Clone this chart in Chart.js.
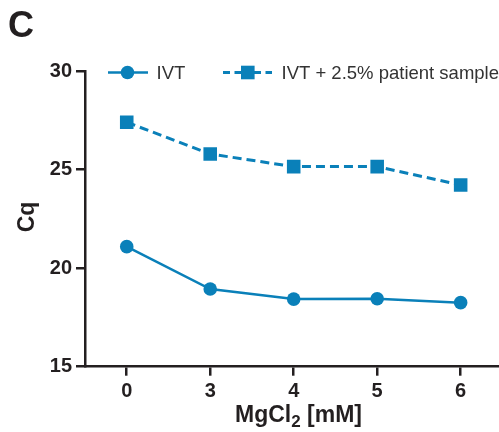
<!DOCTYPE html>
<html>
<head>
<meta charset="utf-8">
<script src="https://cdn.jsdelivr.net/npm/chart.js@4"></script>
<style>
  html, body { margin: 0; padding: 0; background: #fff; overflow: hidden; width: 499px; height: 432px; }
  #wrap { position: relative; width: 512px; height: 432px; }
  #c { width: 512px; height: 432px; }
</style>
</head>
<body>
<div id="wrap"><canvas id="c" width="512" height="432"></canvas></div>
<script>
const categories = ['0', '3', '4', '5', '6'];
const ivt = [21.09, 18.94, 18.43, 18.45, 18.25];
const ivtPatient = [27.40, 25.79, 25.15, 25.15, 24.22];
const yTicks = [15, 20, 25, 30];
const seriesLabels = ['IVT', 'IVT + 2.5% patient sample'];
const panelLabel = 'C';
const yTitle = 'Cq';

const BLUE = '#0a80b9';
const INK = '#231f20';
const FONT = '"Liberation Sans", Arial, sans-serif';

const extras = {
  id: 'extras',
  afterDraw(chart) {
    const ctx = chart.ctx;
    ctx.save();
    // panel label
    ctx.fillStyle = INK;
    ctx.font = 'bold 36px ' + FONT;
    ctx.textBaseline = 'alphabetic';
    ctx.textAlign = 'left';
    ctx.fillText(panelLabel, 8, 37);
    // y title
    ctx.save();
    ctx.translate(34, 217);
    ctx.rotate(-Math.PI / 2);
    ctx.font = 'bold 23px ' + FONT;
    ctx.textAlign = 'center';
    ctx.textBaseline = 'alphabetic';
    ctx.fillText(yTitle, 0, 0);
    ctx.restore();
    // x title: MgCl2 [mM] with subscript
    const p1 = 'MgCl', p2 = '2', p3 = ' [mM]';
    ctx.font = 'bold 23px ' + FONT;
    const w1 = ctx.measureText(p1).width;
    const w3 = ctx.measureText(p3).width;
    ctx.font = 'bold 17px ' + FONT;
    const w2 = ctx.measureText(p2).width;
    const total = w1 + w2 + w3;
    let x = 298.5 - total / 2;
    const base = 422;
    ctx.textAlign = 'left';
    ctx.font = 'bold 23px ' + FONT;
    ctx.fillText(p1, x, base);
    x += w1;
    ctx.font = 'bold 17px ' + FONT;
    ctx.fillText(p2, x, base + 4.5);
    x += w2;
    ctx.font = 'bold 23px ' + FONT;
    ctx.fillText(p3, x, base);

    // legend
    const ly = 72.5;
    const ds = chart.data.datasets;
    ctx.strokeStyle = ds[0].borderColor;
    ctx.lineWidth = 2.5;
    ctx.setLineDash([]);
    ctx.beginPath(); ctx.moveTo(108, ly); ctx.lineTo(148, ly); ctx.stroke();
    ctx.fillStyle = ds[0].pointBackgroundColor;
    ctx.beginPath(); ctx.arc(127.5, ly, 6.8, 0, Math.PI * 2); ctx.fill();
    ctx.fillStyle = '#333';
    ctx.font = '18.5px ' + FONT;
    ctx.textBaseline = 'middle';
    ctx.fillText(ds[0].label, 156.5, ly + 1);
    ctx.strokeStyle = ds[1].borderColor;
    ctx.lineWidth = 2.8;
    ctx.setLineDash([7, 4.5]);
    ctx.beginPath(); ctx.moveTo(223, ly); ctx.lineTo(241, ly); ctx.stroke();
    ctx.beginPath(); ctx.moveTo(254, ly); ctx.lineTo(272, ly); ctx.stroke();
    ctx.setLineDash([]);
    ctx.fillStyle = ds[1].pointBackgroundColor;
    ctx.fillRect(241, ly - 6.8, 13.6, 13.6);
    ctx.fillStyle = '#333';
    ctx.fillText(ds[1].label, 281.5, ly + 1);
    ctx.restore();
  }
};

new Chart(document.getElementById('c'), {
  type: 'line',
  data: {
    labels: categories,
    datasets: [
      {
        label: seriesLabels[0],
        data: ivt,
        borderColor: BLUE,
        backgroundColor: BLUE,
        pointBackgroundColor: BLUE,
        pointBorderColor: BLUE,
        borderWidth: 2.5,
        pointStyle: 'circle',
        pointRadius: 6.8,
        pointBorderWidth: 0,
        tension: 0
      },
      {
        label: seriesLabels[1],
        data: ivtPatient,
        borderColor: BLUE,
        backgroundColor: BLUE,
        pointBackgroundColor: BLUE,
        pointBorderColor: BLUE,
        borderWidth: 3,
        borderDash: [9, 5],
        pointStyle: 'rect',
        pointRadius: 9.6,
        pointBorderWidth: 0,
        tension: 0
      }
    ]
  },
  options: {
    responsive: false,
    animation: false,
    devicePixelRatio: 1,
    layout: { padding: { top: 71, right: 0, left: 0, bottom: 0 } },
    plugins: { legend: { display: false }, tooltip: { enabled: false } },
    scales: {
      x: {
        type: 'category',
        offset: true,
        grid: { display: true, drawOnChartArea: false, drawTicks: true, tickLength: 9, color: INK, lineWidth: 2.5, offset: false },
        border: { display: true, color: INK, width: 2.5 },
        ticks: { color: INK, font: { family: FONT, size: 20, weight: 'bold' }, padding: 4, maxRotation: 0 },
        afterFit(s) { s.height = 432 - 366.7; }
      },
      y: {
        min: 15,
        max: 30,
        afterBuildTicks(s) { s.ticks = yTicks.map(v => ({ value: v })); },
        grid: { display: true, drawOnChartArea: false, drawTicks: true, tickLength: 9, color: INK, lineWidth: 2.5 },
        border: { display: true, color: INK, width: 2.5 },
        ticks: { color: INK, font: { family: FONT, size: 20, weight: 'bold' }, padding: 4 },
        afterFit(s) { s.width = 85; }
      }
    }
  },
  plugins: [extras]
});
</script>
</body>
</html>
